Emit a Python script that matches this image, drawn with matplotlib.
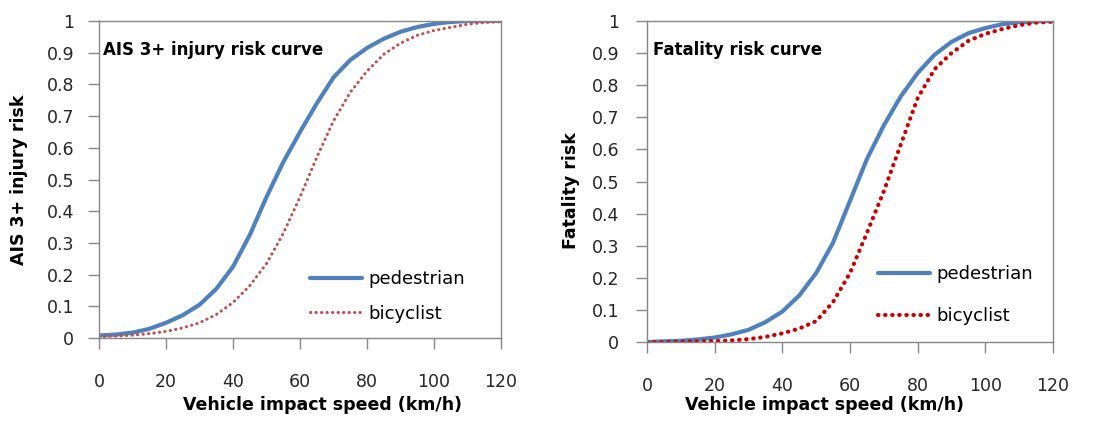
import matplotlib
matplotlib.use("Agg")
import matplotlib.pyplot as plt

# impact speed (km/h) at which the curves were read
speed = [0, 5, 10, 15, 20, 25, 30, 35, 40, 45, 50, 55, 60, 65, 70, 75, 80, 85, 90, 95, 100, 105, 110, 115, 120]

# AIS 3+ injury risk
ais_ped = [0.008, 0.011, 0.017, 0.029, 0.048, 0.072, 0.105, 0.155, 0.225, 0.325, 0.445, 0.555, 0.650,
           0.740, 0.822, 0.877, 0.915, 0.944, 0.966, 0.981, 0.991, 0.997, 1.000, 1.000, 1.000]
ais_bic = [0.004, 0.006, 0.009, 0.014, 0.021, 0.032, 0.048, 0.074, 0.112, 0.165, 0.235, 0.330, 0.445,
           0.570, 0.685, 0.775, 0.842, 0.895, 0.930, 0.955, 0.970, 0.980, 0.990, 0.995, 0.998]

# fatality risk
fat_ped = [0.000, 0.002, 0.004, 0.008, 0.014, 0.024, 0.038, 0.062, 0.095, 0.145, 0.215, 0.310, 0.440,
           0.570, 0.675, 0.765, 0.838, 0.895, 0.935, 0.962, 0.978, 0.990, 0.996, 0.999, 1.000]
fat_bic = [0.000, 0.000, 0.001, 0.002, 0.003, 0.005, 0.009, 0.016, 0.027, 0.042, 0.065, 0.125, 0.215,
           0.340, 0.470, 0.615, 0.760, 0.850, 0.900, 0.938, 0.960, 0.975, 0.987, 0.995, 0.998]

panels = [
    dict(ped=ais_ped, bic=ais_bic, title="AIS 3+ injury risk curve", ylabel="AIS 3+ injury risk",
         pos=[0.0902, 0.1971, 0.3661, 0.7530], bic_color="#C0504D", bic_lw=2.2, bic_dash=(0, (0.1, 1.7)),
         leg=(0.525, 0.131), legsp=0.89, title_xy=(1.2, 0.908), ypad=10,
         ylab_xy=(-0.177, 0.5), xlab_xy=(0.555, -0.183)),
    dict(ped=fat_ped, bic=fat_bic, title="Fatality risk curve", ylabel="Fatality risk",
         pos=[0.5893, 0.1876, 0.3697, 0.7625], bic_color="#CC0000", bic_lw=3.0, bic_dash=(0, (0.1, 1.6)),
         leg=(0.569, 0.145), legsp=1.33, title_xy=(1.8, 0.909), ypad=12,
         ylab_xy=(-0.165, 0.473), xlab_xy=(0.438, -0.168)),
]

plt.rcParams["font.family"] = ["DejaVu Sans"]

fig = plt.figure(figsize=(10.98, 4.21), dpi=100)

for p in panels:
    ax = fig.add_axes(p["pos"])
    ax.plot(speed, p["ped"], color="#4F81BD", lw=3.0, solid_capstyle="round", label="pedestrian")
    ax.plot(speed, p["bic"], color=p["bic_color"], lw=p["bic_lw"], linestyle=p["bic_dash"],
            dash_capstyle="round", label="bicyclist")
    ax.set_xlim(0, 120)
    ax.set_ylim(0, 1)
    ax.set_xticks(range(0, 121, 20))
    ax.set_yticks([i / 10 for i in range(11)])
    ax.set_yticklabels(["0", "0.1", "0.2", "0.3", "0.4", "0.5", "0.6", "0.7", "0.8", "0.9", "1"])
    for s in ax.spines.values():
        s.set_color("#868686")
        s.set_linewidth(1.0)
    ax.tick_params(axis="x", direction="out", length=8, width=1, color="#868686",
                   pad=17, labelsize=12.5, labelcolor="#262626")
    ax.tick_params(axis="y", direction="out", length=8, width=1, color="#868686",
                   pad=p["ypad"], labelsize=12.5, labelcolor="#262626")
    ax.set_xlabel("Vehicle impact speed (km/h)", fontsize=12.5, fontweight="bold")
    ax.xaxis.set_label_coords(*p["xlab_xy"])
    ax.set_ylabel(p["ylabel"], fontsize=12.5, fontweight="bold")
    ax.yaxis.set_label_coords(*p["ylab_xy"])
    ax.text(p["title_xy"][0], p["title_xy"][1], p["title"], fontsize=12, fontweight="bold",
            va="center", ha="left")
    ax.legend(frameon=False, loc="center left", bbox_to_anchor=p["leg"], borderpad=0,
              borderaxespad=0, handlelength=2.9, handletextpad=0.35, labelspacing=p["legsp"],
              fontsize=13)

fig.savefig("out.png", dpi=100)
